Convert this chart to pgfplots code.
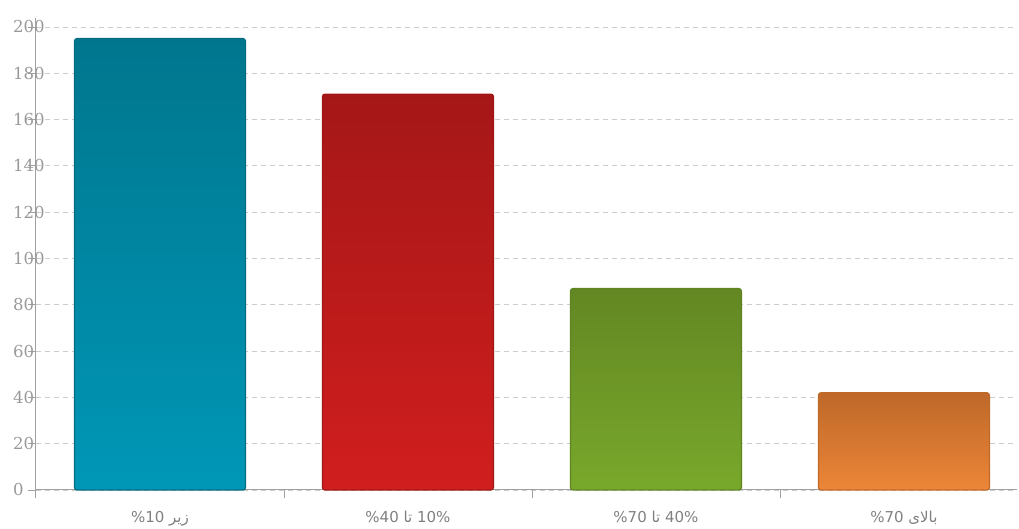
\documentclass[border=0pt]{standalone}
\usepackage{fontspec}
\setmainfont{DejaVu Serif}
\newfontfamily\arabicfont[Script=Arabic]{DejaVu Sans}
\TeXXeTstate=1
\usepackage{pgfplots}
\pgfplotsset{compat=1.18}
\newcommand\ar[1]{{\beginR #1\endR}}
\definecolor{tickgray}{HTML}{999999}
\definecolor{axgray}{HTML}{A0A0A0}
\definecolor{gridgray}{HTML}{CCCCCC}
\begin{document}
\begin{tikzpicture}
\begin{axis}[
  scale only axis,
  width=981bp, height=463bp,
  xmin=-0.5, xmax=3.456,
  ymin=0, ymax=200,
  ytick={0,20,...,200},
  xtick={0,1,2,3},
  xticklabels={{\%10 \ar{زیر}},{\%40 \ar{تا} 10\%},{\%70 \ar{تا} 40\%},{\%70 \ar{بالای}}},
  axis x line*=bottom,
  axis y line*=left,
  axis line style={axgray, line width=1bp, -},
  tick align=outside,
  major tick length=8bp,
  ytick style={axgray, line width=0.8bp},
  xtick style={draw=none},
  ymajorgrids,
  grid style={gridgray, line width=0.8bp, dash pattern=on 5bp off 4bp},
  /pgf/number format/assume math mode=true,
  yticklabel style={font=\fontsize{16.5bp}{18bp}\selectfont, text=tickgray, anchor=west, inner sep=0pt, xshift=-15bp},
  xticklabel style={font=\arabicfont\fontsize{15bp}{17bp}\selectfont, text={rgb,255:red,128;green,128;blue,128}, yshift=-10bp},
  clip=false,
]
\addplot[ybar, bar width=171bp, bar shift=0pt, top color={rgb,255:red,0;green,118;blue,142}, bottom color={rgb,255:red,0;green,151;blue,183}, draw={rgb,255:red,0;green,108;blue,130}, line width=1.2bp, rounded corners=2.5bp] coordinates {(0,195)};
\addplot[ybar, bar width=171bp, bar shift=0pt, top color={rgb,255:red,165;green,23;blue,23}, bottom color={rgb,255:red,209;green,30;blue,30}, draw={rgb,255:red,160;green,22;blue,22}, line width=1.2bp, rounded corners=2.5bp] coordinates {(1,171)};
\addplot[ybar, bar width=171bp, bar shift=0pt, top color={rgb,255:red,99;green,135;blue,35}, bottom color={rgb,255:red,120;green,168;blue,43}, draw={rgb,255:red,95;green,132;blue,34}, line width=1.2bp, rounded corners=2.5bp] coordinates {(2,87)};
\addplot[ybar, bar width=171bp, bar shift=0pt, top color={rgb,255:red,190;green,104;blue,42}, bottom color={rgb,255:red,236;green,134;blue,55}, draw={rgb,255:red,192;green,106;blue,42}, line width=1.2bp, rounded corners=2.5bp] coordinates {(3,42)};
\coordinate (o) at (rel axis cs:0,0);
\coordinate (t) at (rel axis cs:0,1);
\coordinate (s1) at (axis cs:0.5,0);
\coordinate (s2) at (axis cs:1.5,0);
\coordinate (s3) at (axis cs:2.5,0);
\coordinate (bl) at (rel axis cs:-0.0367,-0.0821);
\coordinate (tr) at (rel axis cs:1.00204,1.0583);
\end{axis}
\draw[axgray, line width=1bp] (o) -- ++(0,-8bp);
\draw[axgray, line width=1bp] (t) -- ++(0,9bp);
\foreach \s in {s1,s2,s3} \draw[axgray, line width=0.8bp] (\s) -- ++(0,-8bp);
\pgfresetboundingbox
\path (bl) rectangle (tr);
\end{tikzpicture}
\end{document}
